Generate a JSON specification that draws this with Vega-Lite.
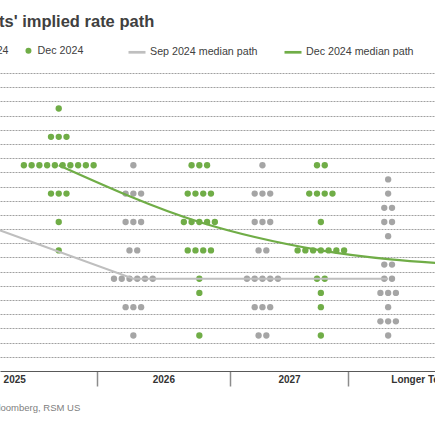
{
  "$schema": "https://vega.github.io/schema/vega-lite/v6.json",
  "width": 435,
  "height": 298,
  "autosize": {"type": "none"},
  "padding": {"left": 0, "top": 73, "right": 0, "bottom": 64},
  "title": {
    "text": "FOMC participants' implied rate path",
    "anchor": "start",
    "frame": "group",
    "dx": -133,
    "fontSize": 16.5,
    "fontWeight": "bold",
    "color": "#404040",
    "font": "Liberation Sans",
    "offset": 12
  },
  "datasets": {
    "dots": [
      {"meeting": "Dec 2024", "year": "2025", "rate": 4.375},
      {"meeting": "Dec 2024", "year": "2025", "rate": 4.125},
      {"meeting": "Dec 2024", "year": "2025", "rate": 4.125},
      {"meeting": "Dec 2024", "year": "2025", "rate": 4.125},
      {"meeting": "Dec 2024", "year": "2025", "rate": 3.875},
      {"meeting": "Dec 2024", "year": "2025", "rate": 3.875},
      {"meeting": "Dec 2024", "year": "2025", "rate": 3.875},
      {"meeting": "Dec 2024", "year": "2025", "rate": 3.875},
      {"meeting": "Dec 2024", "year": "2025", "rate": 3.875},
      {"meeting": "Dec 2024", "year": "2025", "rate": 3.875},
      {"meeting": "Dec 2024", "year": "2025", "rate": 3.875},
      {"meeting": "Dec 2024", "year": "2025", "rate": 3.875},
      {"meeting": "Dec 2024", "year": "2025", "rate": 3.875},
      {"meeting": "Dec 2024", "year": "2025", "rate": 3.875},
      {"meeting": "Dec 2024", "year": "2025", "rate": 3.625},
      {"meeting": "Dec 2024", "year": "2025", "rate": 3.625},
      {"meeting": "Dec 2024", "year": "2025", "rate": 3.625},
      {"meeting": "Dec 2024", "year": "2025", "rate": 3.375},
      {"meeting": "Dec 2024", "year": "2025", "rate": 3.125},

      {"meeting": "Sep 2024", "year": "2026", "rate": 3.875},
      {"meeting": "Sep 2024", "year": "2026", "rate": 3.625},
      {"meeting": "Sep 2024", "year": "2026", "rate": 3.625},
      {"meeting": "Sep 2024", "year": "2026", "rate": 3.625},
      {"meeting": "Sep 2024", "year": "2026", "rate": 3.375},
      {"meeting": "Sep 2024", "year": "2026", "rate": 3.375},
      {"meeting": "Sep 2024", "year": "2026", "rate": 3.375},
      {"meeting": "Sep 2024", "year": "2026", "rate": 3.125},
      {"meeting": "Sep 2024", "year": "2026", "rate": 3.125},
      {"meeting": "Sep 2024", "year": "2026", "rate": 2.875},
      {"meeting": "Sep 2024", "year": "2026", "rate": 2.875},
      {"meeting": "Sep 2024", "year": "2026", "rate": 2.875},
      {"meeting": "Sep 2024", "year": "2026", "rate": 2.875},
      {"meeting": "Sep 2024", "year": "2026", "rate": 2.875},
      {"meeting": "Sep 2024", "year": "2026", "rate": 2.875},
      {"meeting": "Sep 2024", "year": "2026", "rate": 2.625},
      {"meeting": "Sep 2024", "year": "2026", "rate": 2.625},
      {"meeting": "Sep 2024", "year": "2026", "rate": 2.625},
      {"meeting": "Sep 2024", "year": "2026", "rate": 2.375},

      {"meeting": "Dec 2024", "year": "2026", "rate": 3.875},
      {"meeting": "Dec 2024", "year": "2026", "rate": 3.875},
      {"meeting": "Dec 2024", "year": "2026", "rate": 3.875},
      {"meeting": "Dec 2024", "year": "2026", "rate": 3.625},
      {"meeting": "Dec 2024", "year": "2026", "rate": 3.625},
      {"meeting": "Dec 2024", "year": "2026", "rate": 3.625},
      {"meeting": "Dec 2024", "year": "2026", "rate": 3.625},
      {"meeting": "Dec 2024", "year": "2026", "rate": 3.375},
      {"meeting": "Dec 2024", "year": "2026", "rate": 3.375},
      {"meeting": "Dec 2024", "year": "2026", "rate": 3.375},
      {"meeting": "Dec 2024", "year": "2026", "rate": 3.375},
      {"meeting": "Dec 2024", "year": "2026", "rate": 3.375},
      {"meeting": "Dec 2024", "year": "2026", "rate": 3.125},
      {"meeting": "Dec 2024", "year": "2026", "rate": 3.125},
      {"meeting": "Dec 2024", "year": "2026", "rate": 3.125},
      {"meeting": "Dec 2024", "year": "2026", "rate": 3.125},
      {"meeting": "Dec 2024", "year": "2026", "rate": 2.875},
      {"meeting": "Dec 2024", "year": "2026", "rate": 2.75},
      {"meeting": "Dec 2024", "year": "2026", "rate": 2.375},

      {"meeting": "Sep 2024", "year": "2027", "rate": 3.875},
      {"meeting": "Sep 2024", "year": "2027", "rate": 3.625},
      {"meeting": "Sep 2024", "year": "2027", "rate": 3.625},
      {"meeting": "Sep 2024", "year": "2027", "rate": 3.625},
      {"meeting": "Sep 2024", "year": "2027", "rate": 3.375},
      {"meeting": "Sep 2024", "year": "2027", "rate": 3.375},
      {"meeting": "Sep 2024", "year": "2027", "rate": 3.375},
      {"meeting": "Sep 2024", "year": "2027", "rate": 3.125},
      {"meeting": "Sep 2024", "year": "2027", "rate": 3.125},
      {"meeting": "Sep 2024", "year": "2027", "rate": 2.875},
      {"meeting": "Sep 2024", "year": "2027", "rate": 2.875},
      {"meeting": "Sep 2024", "year": "2027", "rate": 2.875},
      {"meeting": "Sep 2024", "year": "2027", "rate": 2.875},
      {"meeting": "Sep 2024", "year": "2027", "rate": 2.875},
      {"meeting": "Sep 2024", "year": "2027", "rate": 2.625},
      {"meeting": "Sep 2024", "year": "2027", "rate": 2.625},
      {"meeting": "Sep 2024", "year": "2027", "rate": 2.625},
      {"meeting": "Sep 2024", "year": "2027", "rate": 2.375},
      {"meeting": "Sep 2024", "year": "2027", "rate": 2.375},

      {"meeting": "Dec 2024", "year": "2027", "rate": 3.875},
      {"meeting": "Dec 2024", "year": "2027", "rate": 3.875},
      {"meeting": "Dec 2024", "year": "2027", "rate": 3.625},
      {"meeting": "Dec 2024", "year": "2027", "rate": 3.625},
      {"meeting": "Dec 2024", "year": "2027", "rate": 3.625},
      {"meeting": "Dec 2024", "year": "2027", "rate": 3.625},
      {"meeting": "Dec 2024", "year": "2027", "rate": 3.375},
      {"meeting": "Dec 2024", "year": "2027", "rate": 3.125},
      {"meeting": "Dec 2024", "year": "2027", "rate": 3.125},
      {"meeting": "Dec 2024", "year": "2027", "rate": 3.125},
      {"meeting": "Dec 2024", "year": "2027", "rate": 3.125},
      {"meeting": "Dec 2024", "year": "2027", "rate": 3.125},
      {"meeting": "Dec 2024", "year": "2027", "rate": 3.125},
      {"meeting": "Dec 2024", "year": "2027", "rate": 3.125},
      {"meeting": "Dec 2024", "year": "2027", "rate": 2.875},
      {"meeting": "Dec 2024", "year": "2027", "rate": 2.875},
      {"meeting": "Dec 2024", "year": "2027", "rate": 2.75},
      {"meeting": "Dec 2024", "year": "2027", "rate": 2.625},
      {"meeting": "Dec 2024", "year": "2027", "rate": 2.375},

      {"meeting": "Sep 2024", "year": "Longer Term", "rate": 3.75},
      {"meeting": "Sep 2024", "year": "Longer Term", "rate": 3.625},
      {"meeting": "Sep 2024", "year": "Longer Term", "rate": 3.5},
      {"meeting": "Sep 2024", "year": "Longer Term", "rate": 3.5},
      {"meeting": "Sep 2024", "year": "Longer Term", "rate": 3.375},
      {"meeting": "Sep 2024", "year": "Longer Term", "rate": 3.375},
      {"meeting": "Sep 2024", "year": "Longer Term", "rate": 3.25},
      {"meeting": "Sep 2024", "year": "Longer Term", "rate": 3.0},
      {"meeting": "Sep 2024", "year": "Longer Term", "rate": 3.0},
      {"meeting": "Sep 2024", "year": "Longer Term", "rate": 2.875},
      {"meeting": "Sep 2024", "year": "Longer Term", "rate": 2.875},
      {"meeting": "Sep 2024", "year": "Longer Term", "rate": 2.75},
      {"meeting": "Sep 2024", "year": "Longer Term", "rate": 2.75},
      {"meeting": "Sep 2024", "year": "Longer Term", "rate": 2.75},
      {"meeting": "Sep 2024", "year": "Longer Term", "rate": 2.625},
      {"meeting": "Sep 2024", "year": "Longer Term", "rate": 2.5},
      {"meeting": "Sep 2024", "year": "Longer Term", "rate": 2.5},
      {"meeting": "Sep 2024", "year": "Longer Term", "rate": 2.5},
      {"meeting": "Sep 2024", "year": "Longer Term", "rate": 2.375}
    ],
    "medians": [
      {"series": "Sep 2024 median path", "year": "2025", "rate": 3.375},
      {"series": "Sep 2024 median path", "year": "2026", "rate": 2.875},
      {"series": "Sep 2024 median path", "year": "2027", "rate": 2.875},
      {"series": "Sep 2024 median path", "year": "Longer Term", "rate": 2.875},
      {"series": "Dec 2024 median path", "year": "2025", "rate": 3.875},
      {"series": "Dec 2024 median path", "year": "2026", "rate": 3.375},
      {"series": "Dec 2024 median path", "year": "2027", "rate": 3.125},
      {"series": "Dec 2024 median path", "year": "Longer Term", "rate": 3.0}
    ]
  },
  "encoding": {
    "x": {
      "field": "pos",
      "type": "quantitative",
      "scale": {
        "domain": [0.914, 1.5, 2.5, 3.5, 4.096],
        "range": [0, 96.7, 230, 348, 435],
        "nice": false,
        "zero": false
      },
      "axis": {
        "values": [1, 1.5, 2, 2.5, 3, 3.5, 4],
        "labelExpr": "datum.value == 1 ? '2025' : datum.value == 2 ? '2026' : datum.value == 3 ? '2027' : datum.value == 4 ? 'Longer Term' : ''",
        "labelFont": "Liberation Sans",
        "labelFontSize": 10,
        "labelFontWeight": "bold",
        "labelColor": "#333333",
        "labelPadding": -11.5,
        "labelFlush": false,
        "labelOverlap": false,
        "labelBound": false,
        "tickSize": 15,
        "tickWidth": 1.5,
        "tickColor": {"condition": {"test": "datum.value % 1 == 0", "value": "transparent"}, "value": "#8c8c8c"},
        "domainColor": "#595959",
        "domainWidth": 1,
        "grid": false,
        "title": "Source: Bloomberg, RSM US",
        "titleAnchor": "start",
        "titleAlign": "left",
        "titleBaseline": "alphabetic",
        "titleX": -43.8,
        "titleY": 39,
        "titleFont": "Liberation Sans",
        "titleFontSize": 9.5,
        "titleFontWeight": "normal",
        "titleColor": "#808080"
      }
    },
    "y": {
      "field": "rate",
      "type": "quantitative",
      "scale": {"domain": [2.0625, 4.6875], "nice": false, "zero": false},
      "axis": {
        "values": [2.1875, 2.3125, 2.4375, 2.5625, 2.6875, 2.8125, 2.9375, 3.0625, 3.1875, 3.3125, 3.4375, 3.5625, 3.6875, 3.8125, 3.9375, 4.0625, 4.1875, 4.3125, 4.4375, 4.5625, 4.6875],
        "labels": false,
        "ticks": false,
        "domain": false,
        "title": null,
        "grid": true,
        "gridDash": [2, 1],
        "gridColor": "#a0a0a0",
        "gridWidth": 1
      }
    }
  },
  "layer": [
    {
      "data": {"name": "dots"},
      "transform": [
        {"window": [{"op": "row_number", "as": "i"}], "groupby": ["meeting", "year", "rate"]},
        {"joinaggregate": [{"op": "count", "as": "n"}], "groupby": ["meeting", "year", "rate"]},
        {"calculate": "indexof(['2025', '2026', '2027', 'Longer Term'], datum.year)", "as": "k"},
        {"calculate": "datum.k + 1 + (datum.meeting == 'Sep 2024' ? -0.225 : 0.27) + (datum.i - (datum.n + 1) / 2) * 7.75 / [165, 133.3, 118, 146][datum.k]", "as": "pos"}
      ],
      "mark": {"type": "circle", "size": 40, "opacity": 1},
      "encoding": {
        "color": {
          "field": "meeting",
          "type": "nominal",
          "scale": {"domain": ["Sep 2024", "Dec 2024"], "range": ["#a5a5a5", "#70ad47"]},
          "legend": {
            "orient": "none",
            "legendX": -51.7,
            "legendY": -28,
            "direction": "horizontal",
            "title": null,
            "padding": 0,
            "symbolType": "circle",
            "symbolSize": 36,
            "symbolStrokeWidth": 0,
            "labelFont": "Liberation Sans",
            "labelFontSize": 10.7,
            "labelColor": "#404040",
            "labelOffset": 3.8,
            "columnPadding": 13.8
          }
        }
      }
    },
    {
      "data": {"name": "medians"},
      "transform": [
        {"filter": "datum.series == 'Sep 2024 median path'"},
        {"calculate": "indexof(['2025', '2026', '2027', 'Longer Term'], datum.year) + 0.775", "as": "pos"}
      ],
      "mark": {"type": "line", "clip": true, "strokeWidth": 2},
      "encoding": {
        "stroke": {
          "field": "series",
          "type": "nominal",
          "scale": {"domain": ["Sep 2024 median path", "Dec 2024 median path"], "range": ["#bfbfbf", "#70ad47"]},
          "legend": {
            "orient": "none",
            "legendX": 127,
            "legendY": -31,
            "direction": "horizontal",
            "title": null,
            "padding": 0,
            "symbolType": "stroke",
            "symbolSize": 289,
            "symbolStrokeWidth": 2.7,
            "labelFont": "Liberation Sans",
            "labelFontSize": 10.7,
            "labelColor": "#404040",
            "labelOffset": 3,
            "columnPadding": 21
          }
        }
      }
    },
    {
      "data": {"name": "medians"},
      "transform": [
        {"filter": "datum.series == 'Dec 2024 median path'"},
        {"calculate": "indexof(['2025', '2026', '2027', 'Longer Term'], datum.year) + 1.27", "as": "pos"}
      ],
      "mark": {"type": "line", "clip": true, "strokeWidth": 2.3, "interpolate": "monotone"},
      "encoding": {
        "stroke": {"field": "series", "type": "nominal"}
      }
    }
  ],
  "config": {
    "view": {"stroke": null},
    "font": "Liberation Sans"
  }
}
